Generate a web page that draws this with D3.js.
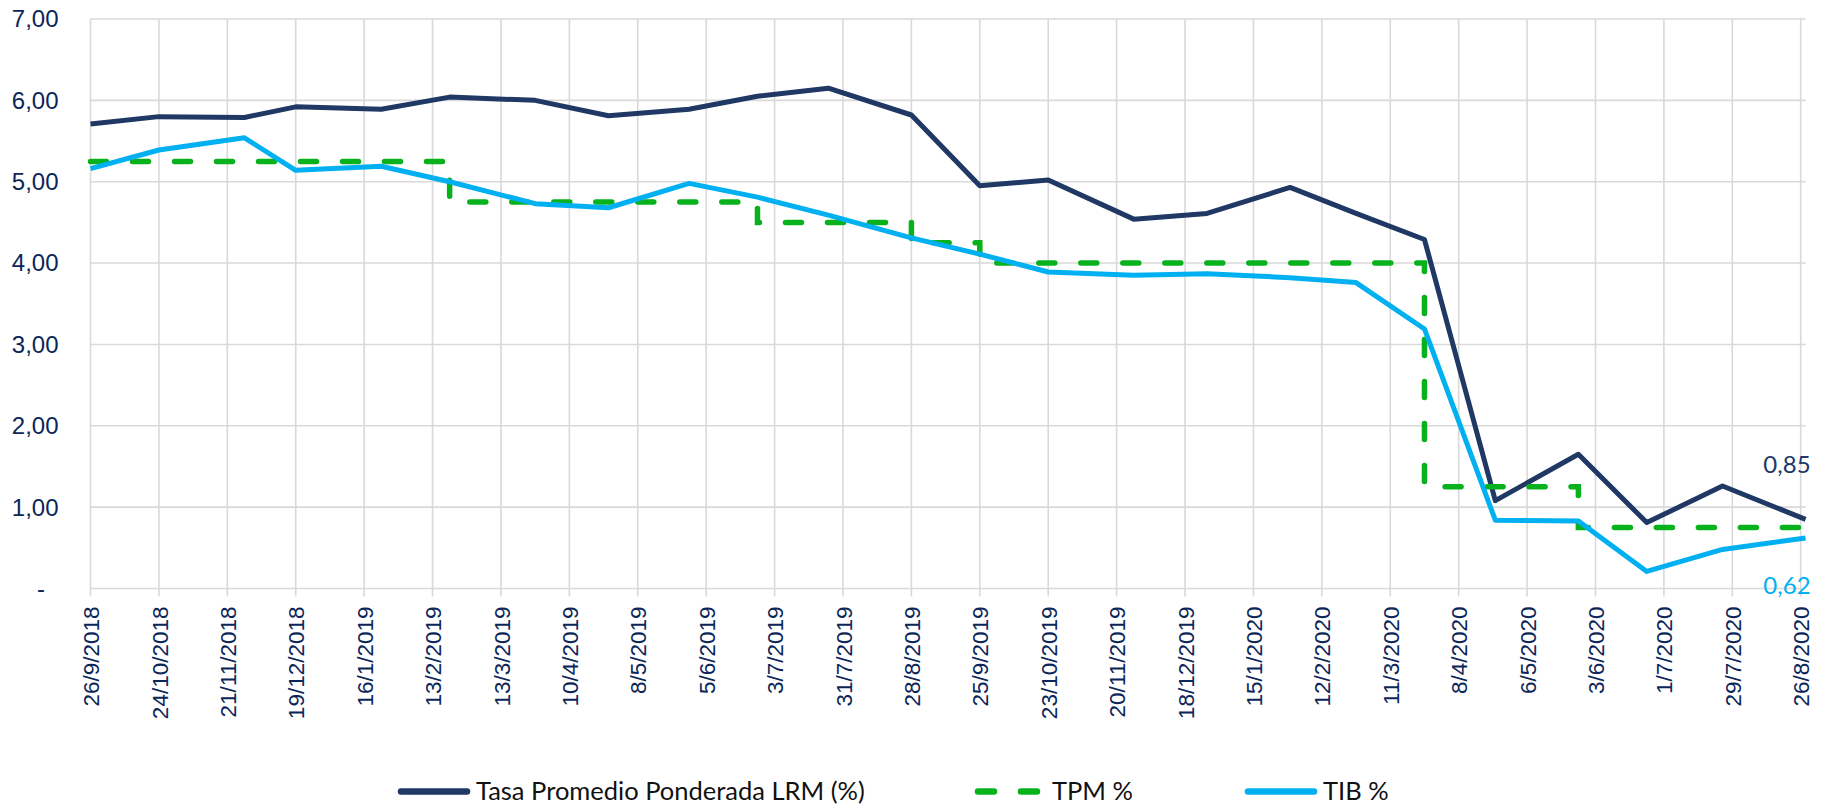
<!DOCTYPE html>
<html>
<head>
<meta charset="utf-8">
<script src="https://cdn.jsdelivr.net/npm/d3@7"></script>
<style>
  body { margin: 0; background: #ffffff; }
  svg { display: block; font-family: Lato, "Open Sans", "DejaVu Sans", sans-serif; }
</style>
</head>
<body>
<svg id="chart" width="1825" height="806"></svg>
<script>
// ---------- DATA ----------
const dates = ["26/9/2018","24/10/2018","28/11/2018","19/12/2018","23/1/2019","20/2/2019","27/3/2019","26/4/2019",
  "29/5/2019","26/6/2019","25/7/2019","28/8/2019","25/9/2019","23/10/2019","27/11/2019","27/12/2019",
  "30/1/2020","26/2/2020","25/3/2020","23/4/2020","27/5/2020","24/6/2020","25/7/2020","28/8/2020"];
const tasaLRM = [5.71,5.80,5.79,5.92,5.89,6.04,6.00,5.81,5.89,6.05,6.15,5.82,4.95,5.02,4.54,4.61,4.93,4.61,4.29,1.08,1.65,0.81,1.26,0.85];
const tpm     = [5.25,5.25,5.25,5.25,5.25,4.75,4.75,4.75,4.75,4.50,4.50,4.25,4.00,4.00,4.00,4.00,4.00,4.00,1.25,1.25,0.75,0.75,0.75,0.75];
const tib     = [5.16,5.39,5.54,5.14,5.19,5.00,4.73,4.68,4.98,4.81,4.59,4.31,4.11,3.89,3.85,3.87,3.82,3.76,3.19,0.84,0.83,0.21,0.48,0.62];
const tickLabels = ["26/9/2018","24/10/2018","21/11/2018","19/12/2018","16/1/2019","13/2/2019","13/3/2019","10/4/2019",
  "8/5/2019","5/6/2019","3/7/2019","31/7/2019","28/8/2019","25/9/2019","23/10/2019","20/11/2019","18/12/2019",
  "15/1/2020","12/2/2020","11/3/2020","8/4/2020","6/5/2020","3/6/2020","1/7/2020","29/7/2020","26/8/2020"];
const yTicks = [0,1,2,3,4,5,6,7];
const seriesNames = ["Tasa Promedio Ponderada LRM (%)", "TPM %", "TIB %"];
const endLabels = ["0,85", "0,62"];

// ---------- SETUP ----------
const parse = d3.utcParse("%d/%m/%Y");
const dateObjs = dates.map(parse);
const tickObjs = tickLabels.map(parse);

const C_LRM = "#203864", C_TPM = "#08B21C", C_TIB = "#00B0F0", C_TXT = "#0b2659", C_GRID = "#d9d9d9";

const svg = d3.select("#chart");
const x = d3.scaleUtc().domain([tickObjs[0], tickObjs[tickObjs.length - 1]]).range([90.5, 1800.7]);
const y = d3.scaleLinear().domain([0, 7]).range([588.5, 19]);
const plotRight = x(dateObjs[dateObjs.length - 1]);

// grid
const grid = svg.append("g");
grid.selectAll("line.h").data(yTicks).join("line")
  .attr("x1", x.range()[0]).attr("x2", plotRight)
  .attr("y1", d => y(d)).attr("y2", d => y(d))
  .attr("stroke", C_GRID).attr("stroke-width", 1.6);
grid.selectAll("line.v").data(tickObjs).join("line")
  .attr("x1", d => x(d)).attr("x2", d => x(d))
  .attr("y1", y(7)).attr("y2", y(0) + 8)
  .attr("stroke", C_GRID).attr("stroke-width", 1.6);

// y axis
const fmt = d3.formatLocale({decimal: ",", thousands: ".", grouping: [3], currency: ["", ""]}).format(".2f");
const yAxis = svg.append("g").attr("transform", `translate(${x.range()[0]},0)`)
  .call(d3.axisLeft(y).tickValues(yTicks).tickSize(0).tickPadding(32)
    .tickFormat(d => d === 0 ? "-" : fmt(d)));
yAxis.select(".domain").remove();
yAxis.selectAll("text").attr("fill", C_TXT).attr("font-size", 24).attr("dy", "0.33em")
  .filter(d => d === 0).attr("text-anchor", "middle").attr("x", 41 - x.range()[0]);

// x axis
const xAxis = svg.append("g").attr("transform", `translate(0,${y(0)})`)
  .call(d3.axisBottom(x).tickValues(tickObjs).tickSize(0).tickFormat((d, i) => tickLabels[i]));
xAxis.select(".domain").remove();
xAxis.selectAll("text").attr("fill", C_TXT).attr("font-size", 22.5)
  .attr("transform", "rotate(-90)").attr("text-anchor", "end")
  .attr("x", -18).attr("y", 0).attr("dy", "0.36em");

// lines
const mk = vals => vals.map((v, i) => ({date: dateObjs[i], v}));
const line = d3.line().x(d => x(d.date)).y(d => y(d.v));
const stepLine = d3.line().x(d => x(d.date)).y(d => y(d.v)).curve(d3.curveStepAfter);

svg.append("path").datum(mk(tasaLRM)).attr("d", line)
  .attr("fill", "none").attr("stroke", C_LRM).attr("stroke-width", 5).attr("stroke-linejoin", "round");
svg.append("path").datum(mk(tpm)).attr("d", stepLine)
  .attr("fill", "none").attr("stroke", C_TPM).attr("stroke-width", 5.5)
  .attr("stroke-dasharray", "16 26").attr("stroke-linecap", "round");
svg.append("path").datum(mk(tib)).attr("d", line)
  .attr("fill", "none").attr("stroke", C_TIB).attr("stroke-width", 5).attr("stroke-linejoin", "round");

// end labels
const lastD = dateObjs[dateObjs.length - 1];
svg.append("text").attr("x", x(lastD) + 5).attr("y", y(tasaLRM[tasaLRM.length - 1]) - 46)
  .attr("text-anchor", "end").attr("fill", C_LRM).attr("font-size", 24).text(endLabels[0]);
svg.append("text").attr("x", x(lastD) + 5).attr("y", y(tib[tib.length - 1]) + 56)
  .attr("text-anchor", "end").attr("fill", C_TIB).attr("font-size", 24).text(endLabels[1]);

// legend
const legY = 791.5;
const leg = svg.append("g").attr("font-size", 25.5).attr("fill", "#111");
leg.append("line").attr("x1", 401).attr("x2", 467).attr("y1", legY).attr("y2", legY)
  .attr("stroke", C_LRM).attr("stroke-width", 6.5).attr("stroke-linecap", "round");
leg.append("text").attr("x", 476).attr("y", legY).attr("dy", "0.35em").text(seriesNames[0]);
leg.append("line").attr("x1", 978).attr("x2", 1037).attr("y1", legY).attr("y2", legY)
  .attr("stroke", C_TPM).attr("stroke-width", 6.5).attr("stroke-linecap", "round")
  .attr("stroke-dasharray", "16 27");
leg.append("text").attr("x", 1052).attr("y", legY).attr("dy", "0.35em").text(seriesNames[1]);
leg.append("line").attr("x1", 1248).attr("x2", 1314).attr("y1", legY).attr("y2", legY)
  .attr("stroke", C_TIB).attr("stroke-width", 6.5).attr("stroke-linecap", "round");
leg.append("text").attr("x", 1323).attr("y", legY).attr("dy", "0.35em").text(seriesNames[2]);
</script>
</body>
</html>
